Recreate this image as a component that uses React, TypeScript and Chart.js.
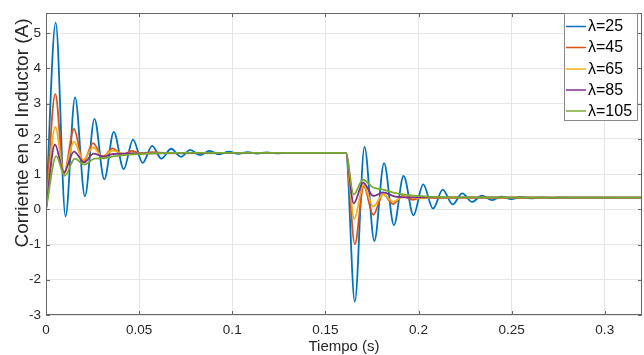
import React, { useEffect, useRef } from "react";
import { Chart, registerables } from "chart.js";

Chart.register(...registerables);

// ---------- data ----------
const seriesLabels = ["λ=25", "λ=45", "λ=65", "λ=85", "λ=105"];
const seriesColors = ["#0072BD", "#D95319", "#EDB120", "#7E2F8E", "#77AC30"];

const tL25 = [0, 0.0052, 0.0105, 0.0156, 0.0209, 0.026, 0.0313, 0.0364, 0.0417, 0.0467, 0.0519, 0.057, 0.0619, 0.0672, 0.0724, 0.0774, 0.0827, 0.0878, 0.093, 0.0981, 0.1032, 0.1083, 0.1134, 0.1185, 0.1236, 0.13, 0.161, 0.1658, 0.171, 0.1763, 0.1815, 0.1868, 0.192, 0.1973, 0.2025, 0.2078, 0.213, 0.2183, 0.2235, 0.2288, 0.234, 0.2393, 0.2445, 0.2498, 0.255, 0.2603, 0.2655, 0.2708, 0.276, 0.285, 0.32];
const iL25 = [0, 5.3, -0.2, 3.18, 0.37, 2.57, 0.85, 2.2, 1.14, 1.98, 1.32, 1.8, 1.44, 1.72, 1.49, 1.69, 1.54, 1.66, 1.56, 1.64, 1.575, 1.625, 1.585, 1.615, 1.59, 1.6, 1.6, -2.62, 1.77, -0.9, 1.31, -0.45, 0.95, -0.17, 0.71, 0.02, 0.56, 0.14, 0.45, 0.21, 0.39, 0.26, 0.36, 0.29, 0.35, 0.31, 0.34, 0.32, 0.335, 0.33, 0.33];

const tL45 = [0, 0.005, 0.0096, 0.015, 0.02, 0.0253, 0.0303, 0.0358, 0.041, 0.046, 0.051, 0.057, 0.065, 0.161, 0.1658, 0.1706, 0.1757, 0.181, 0.1863, 0.1915, 0.197, 0.202, 0.21, 0.22, 0.32];
const iL45 = [0, 3.27, 1.0, 2.28, 1.34, 1.88, 1.48, 1.73, 1.54, 1.66, 1.58, 1.62, 1.6, 1.6, -0.99, 0.66, -0.16, 0.43, 0.15, 0.38, 0.27, 0.35, 0.32, 0.33, 0.33];

const tL65 = [0, 0.005, 0.0096, 0.015, 0.02, 0.0253, 0.0303, 0.0358, 0.042, 0.05, 0.161, 0.1655, 0.1705, 0.1757, 0.181, 0.1865, 0.192, 0.2, 0.21, 0.32];
const iL65 = [0, 2.34, 1.04, 1.92, 1.4, 1.76, 1.5, 1.67, 1.57, 1.6, 1.6, -0.27, 0.7, 0.08, 0.42, 0.22, 0.37, 0.31, 0.33, 0.33];

const tL85 = [0, 0.0048, 0.0096, 0.015, 0.0205, 0.0255, 0.031, 0.036, 0.045, 0.161, 0.1652, 0.1703, 0.1757, 0.181, 0.187, 0.195, 0.32];
const iL85 = [0, 1.84, 1.05, 1.64, 1.33, 1.58, 1.5, 1.57, 1.59, 1.6, 0.17, 0.76, 0.38, 0.48, 0.37, 0.34, 0.33];

const tL105 = [0, 0.0055, 0.01, 0.0155, 0.0205, 0.026, 0.031, 0.037, 0.045, 0.055, 0.07, 0.161, 0.1652, 0.1702, 0.1757, 0.181, 0.187, 0.195, 0.205, 0.22, 0.32];
const iL105 = [0, 1.51, 0.95, 1.44, 1.27, 1.44, 1.45, 1.51, 1.55, 1.58, 1.6, 1.6, 0.42, 0.84, 0.62, 0.56, 0.47, 0.4, 0.36, 0.34, 0.33];

const seriesTimes = [tL25, tL45, tL65, tL85, tL105];
const seriesValues = [iL25, iL45, iL65, iL85, iL105];

const xTicks = [0, 0.05, 0.1, 0.15, 0.2, 0.25, 0.3];
const yTicks = [-3, -2, -1, 0, 1, 2, 3, 4, 5];
const xLabel = "Tiempo (s)";
const yLabel = "Corriente en el Inductor (A)";
const X_MIN = 0;
const X_MAX = 0.32;
const Y_MIN = -3;
const Y_MAX = 5.57;

const FONT = "'Liberation Sans', Arial, Helvetica, sans-serif";
const TEXT = "#262626";
const FRAME = "#666666";

const framePlugin = {
  id: "matlabFrame",
  afterDatasetsDraw(chart: any) {
    const { ctx, chartArea } = chart;
    const { left, right, top, bottom } = chartArea;
    const xs = chart.scales.x;
    const ys = chart.scales.y;
    ctx.save();
    ctx.strokeStyle = FRAME;
    ctx.lineWidth = 1;
    ctx.strokeRect(Math.round(left) + 0.5, Math.round(top) + 0.5, Math.round(right - left) - 1, Math.round(bottom - top) - 1);
    const tl = 4;
    ctx.beginPath();
    xTicks.forEach((v) => {
      const px = Math.round(xs.getPixelForValue(v)) + 0.5;
      ctx.moveTo(px, bottom);
      ctx.lineTo(px, bottom - tl);
      ctx.moveTo(px, top);
      ctx.lineTo(px, top + tl);
    });
    yTicks.forEach((v) => {
      const py = Math.round(ys.getPixelForValue(v)) + 0.5;
      ctx.moveTo(left, py);
      ctx.lineTo(left + tl, py);
      ctx.moveTo(right, py);
      ctx.lineTo(right - tl, py);
    });
    ctx.stroke();
    ctx.restore();
  },
  afterDraw(chart: any) {
    const { ctx, chartArea } = chart;
    ctx.save();
    // axis titles
    ctx.fillStyle = TEXT;
    ctx.font = `15px ${FONT}`;
    ctx.textAlign = "center";
    ctx.textBaseline = "alphabetic";
    ctx.fillText(xLabel, (chartArea.left + chartArea.right) / 2, 351);
    ctx.save();
    ctx.translate(28, 133);
    ctx.rotate(-Math.PI / 2);
    ctx.font = `19px ${FONT}`;
    ctx.fillText(yLabel, 0, 0);
    ctx.restore();

    // legend
    const bx = 564, by = 13, bw = 74, bh = 108;
    ctx.fillStyle = "#ffffff";
    ctx.fillRect(bx, by, bw, bh);
    ctx.strokeStyle = "#8a8a8a";
    ctx.lineWidth = 1;
    ctx.strokeRect(bx + 0.5, by + 0.5, bw - 1, bh - 1);
    const rows = [26.5, 47.5, 69, 90, 111];
    chart.data.datasets.forEach((ds: any, i: number) => {
      const y = rows[i];
      ctx.strokeStyle = ds.borderColor;
      ctx.lineWidth = 1.5;
      ctx.beginPath();
      ctx.moveTo(566, y);
      ctx.lineTo(586, y);
      ctx.stroke();
      ctx.fillStyle = "#000000";
      ctx.font = `16px ${FONT}`;
      ctx.textAlign = "left";
      ctx.textBaseline = "middle";
      ctx.fillText(ds.label, 588, y + 0.5);
    });
    ctx.restore();
  },
};

export default function App() {
  const ref = useRef<HTMLCanvasElement | null>(null);
  useEffect(() => {
    document.body.style.margin = "0";
    const canvas = ref.current;
    if (!canvas) return;
    const datasets = seriesLabels.map((label, i) => ({
      label,
      data: seriesTimes[i].map((t, k) => ({ x: t, y: seriesValues[i][k] })),
      borderColor: seriesColors[i],
      backgroundColor: seriesColors[i],
      borderWidth: 1.8,
      pointRadius: 0,
      fill: false,
      cubicInterpolationMode: "monotone" as const,
      order: seriesLabels.length - i,
    }));
    const chart = new Chart(canvas, {
      type: "line",
      data: { datasets },
      plugins: [framePlugin],
      options: {
        animation: false,
        responsive: false,
        devicePixelRatio: 1,
        layout: { padding: { top: 7, right: 2, left: 0, bottom: 0 } },
        plugins: { legend: { display: false }, tooltip: { enabled: false } },
        scales: {
          x: {
            type: "linear",
            min: X_MIN,
            max: X_MAX,
            afterBuildTicks: (s: any) => {
              s.ticks = xTicks.map((v) => ({ value: v }));
            },
            afterFit: (s: any) => {
              s.height = 40;
            },
            ticks: {
              autoSkip: false,
              maxRotation: 0,
              padding: 7,
              color: TEXT,
              font: { family: FONT, size: 13.5 },
              callback: (v: any) => String(v),
            },
            grid: { color: "#e6e6e6", drawTicks: false, lineWidth: 1 },
            border: { display: false },
          },
          y: {
            type: "linear",
            min: Y_MIN,
            max: Y_MAX,
            afterBuildTicks: (s: any) => {
              s.ticks = yTicks.map((v) => ({ value: v }));
            },
            afterFit: (s: any) => {
              s.width = 46;
            },
            ticks: {
              autoSkip: false,
              padding: 5,
              color: TEXT,
              font: { family: FONT, size: 13.5 },
              callback: (v: any) => String(v),
            },
            grid: { color: "#e6e6e6", drawTicks: false, lineWidth: 1 },
            border: { display: false },
          },
        },
      },
    });
    return () => chart.destroy();
  }, []);
  return (
    <div style={{ width: 644, height: 355 }}>
      <canvas ref={ref} width={644} height={355} />
    </div>
  );
}
